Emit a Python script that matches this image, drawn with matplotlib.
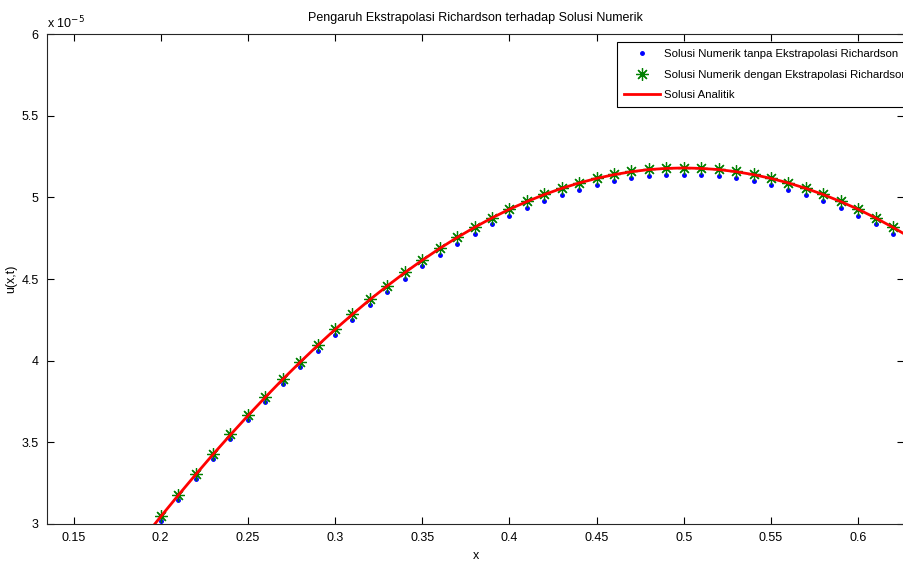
import numpy as np
import matplotlib
matplotlib.use("Agg")
from matplotlib import pyplot as plt

plt.rcParams['font.family'] = ['Liberation Sans', 'DejaVu Sans']
plt.rcParams['font.size'] = 9

# nilai dalam satuan 1e-5
x_titik = [0.20, 0.21, 0.22, 0.23, 0.24, 0.25, 0.26, 0.27, 0.28, 0.29,
           0.30, 0.31, 0.32, 0.33, 0.34, 0.35, 0.36, 0.37, 0.38, 0.39,
           0.40, 0.41, 0.42, 0.43, 0.44, 0.45, 0.46, 0.47, 0.48, 0.49,
           0.50, 0.51, 0.52, 0.53, 0.54, 0.55, 0.56, 0.57, 0.58, 0.59,
           0.60, 0.61, 0.62]

u_tanpa = [3.021, 3.150, 3.276, 3.399, 3.518, 3.634, 3.746, 3.855, 3.959, 4.060,
           4.157, 4.250, 4.339, 4.422, 4.503, 4.578, 4.650, 4.716, 4.777, 4.835,
           4.888, 4.934, 4.977, 5.015, 5.047, 5.075, 5.098, 5.116, 5.129, 5.136,
           5.139, 5.136, 5.129, 5.116, 5.098, 5.075, 5.047, 5.015, 4.977, 4.934,
           4.888, 4.835, 4.777]

u_dengan = [3.047, 3.177, 3.304, 3.428, 3.548, 3.665, 3.778, 3.888, 3.993, 4.095,
            4.193, 4.286, 4.376, 4.460, 4.541, 4.617, 4.689, 4.756, 4.818, 4.876,
            4.929, 4.976, 5.019, 5.057, 5.090, 5.118, 5.141, 5.159, 5.172, 5.179,
            5.182, 5.179, 5.172, 5.159, 5.141, 5.118, 5.090, 5.057, 5.019, 4.976,
            4.929, 4.876, 4.818]

x_analitik = [0.19, 0.20, 0.21, 0.22, 0.23, 0.24, 0.25, 0.26, 0.27, 0.28, 0.29,
              0.30, 0.31, 0.32, 0.33, 0.34, 0.35, 0.36, 0.37, 0.38, 0.39,
              0.40, 0.41, 0.42, 0.43, 0.44, 0.45, 0.46, 0.47, 0.48, 0.49,
              0.50, 0.51, 0.52, 0.53, 0.54, 0.55, 0.56, 0.57, 0.58, 0.59,
              0.60, 0.61, 0.62, 0.63]
u_analitik = [2.912, 3.045, 3.175, 3.302, 3.426, 3.546, 3.663, 3.776, 3.886, 3.991, 4.093,
              4.191, 4.284, 4.374, 4.458, 4.539, 4.615, 4.687, 4.754, 4.816, 4.874,
              4.927, 4.974, 5.017, 5.055, 5.088, 5.116, 5.139, 5.157, 5.170, 5.177,
              5.180, 5.177, 5.170, 5.157, 5.139, 5.116, 5.088, 5.055, 5.017, 4.974,
              4.927, 4.874, 4.816, 4.754]

x_ticks = [0.15, 0.2, 0.25, 0.3, 0.35, 0.4, 0.45, 0.5, 0.55, 0.6]
y_ticks = [3, 3.5, 4, 4.5, 5, 5.5, 6]

fig = plt.figure(figsize=(9.04, 5.61), dpi=100)
ax = fig.add_axes([47 / 904, 37 / 561, 857 / 904, 490 / 561])

ax.plot(x_titik, u_tanpa, '.', color='blue', markersize=5,
        label='Solusi Numerik tanpa Ekstrapolasi Richardson')
ax.plot(x_titik, u_dengan, linestyle='none', marker=(8, 2, 0), color=(0, 0.5, 0),
        markersize=9, markeredgewidth=0.9,
        label='Solusi Numerik dengan Ekstrapolasi Richardson')
ax.plot(x_analitik, u_analitik, '-', color='red', linewidth=2, label='Solusi Analitik')

ax.set_xlim(0.1348, 0.6263)
ax.set_ylim(3, 6)
ax.set_xticks(x_ticks)
ax.set_xticklabels(['0.15', '0.2', '0.25', '0.3', '0.35', '0.4', '0.45', '0.5', '0.55', '0.6'])
ax.set_yticks(y_ticks)
ax.set_yticklabels(['3', '3.5', '4', '4.5', '5', '5.5', '6'])
ax.tick_params(direction='in', length=5, top=True, right=True, labelsize=9, pad=6)
for s in ax.spines.values():
    s.set_linewidth(0.8)
    s.set_color('#262626')

ax.set_title('Pengaruh Ekstrapolasi Richardson terhadap Solusi Numerik', fontsize=9, pad=9)
ax.set_xlabel('x', fontsize=9, labelpad=4)
ax.set_ylabel('u(x,t)', fontsize=9, labelpad=3)
ax.text(0.0, 1.005, r'x 10$^{-5}$', transform=ax.transAxes, fontsize=9, va='bottom', ha='left')

leg = ax.legend(loc='upper left', bbox_to_anchor=(617 / 904, 1 - 42 / 561),
                bbox_transform=fig.transFigure, fontsize=8.2, fancybox=False,
                framealpha=1, edgecolor='black', borderpad=0.6, labelspacing=0.95,
                handlelength=3.2, handletextpad=0.3, borderaxespad=0)
leg.get_frame().set_linewidth(0.8)

fig.savefig('out.png', dpi=100)
